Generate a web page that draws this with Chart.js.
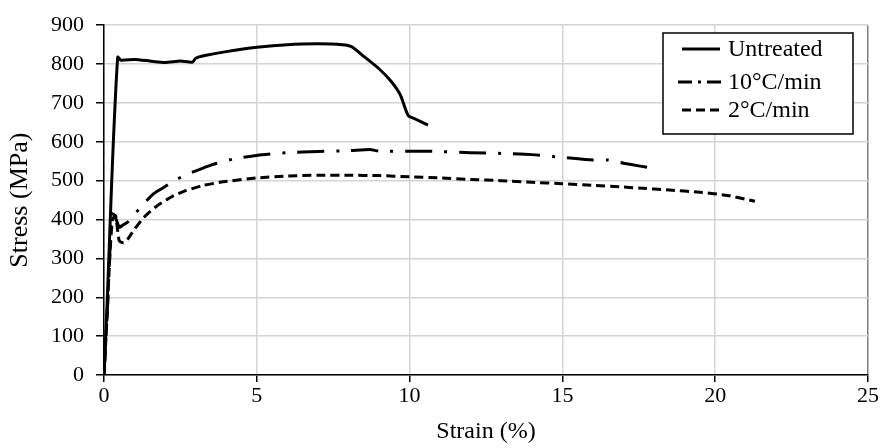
<!DOCTYPE html>
<html>
<head>
<meta charset="utf-8">
<script src="https://cdn.jsdelivr.net/npm/chart.js@4/dist/chart.umd.min.js"></script>
<style>
    html, body { margin: 0; padding: 0; background: #ffffff; }
    #wrap { width: 882px; height: 448px; }
</style>
</head>
<body>
<div id="wrap"><canvas id="stressStrainChart" width="882" height="448"></canvas></div>
<script>
// 応力-ひずみ曲線のデータ
const untreatedStrain = [0, 0.1, 0.2, 0.3, 0.45, 0.55, 1.0, 1.5, 2.0, 2.5, 2.9, 3.0, 3.3, 4.0, 5.0, 6.0, 7.0, 7.8, 8.1, 8.5, 9.0, 9.4, 9.7, 9.95, 10.2, 10.6];
const untreatedStress = [0, 180, 390, 590, 818, 810, 812, 808, 804, 808, 805, 815, 822, 832, 843, 850, 852, 850, 845, 820, 788, 755, 720, 668, 658, 643];

const rate10Strain = [0, 0.1, 0.2, 0.25, 0.35, 0.5, 0.6, 0.8, 1.2, 1.6, 1.9, 2.3, 2.6, 3.0, 3.5, 4.2, 5.0, 6.0, 7.0, 8.0, 8.7, 9.0, 10.0, 11.0, 12.0, 13.0, 14.0, 15.0, 16.0, 16.5, 17.0, 17.5, 18.1];
const rate10Stress = [0, 150, 330, 415, 410, 380, 385, 395, 432, 465, 480, 500, 512, 525, 540, 555, 565, 572, 575, 577, 580, 576, 576, 575, 572, 570, 567, 560, 553, 553, 545, 538, 530];

const rate2Strain = [0, 0.1, 0.2, 0.28, 0.38, 0.5, 0.65, 0.8, 1.0, 1.3, 1.7, 2.2, 2.6, 3.2, 3.9, 5.0, 6.0, 7.0, 8.0, 9.0, 10.0, 11.0, 12.0, 13.0, 14.0, 15.0, 16.0, 16.9, 17.5, 18.5, 19.5, 20.4, 21.3];
const rate2Stress = [0, 150, 320, 400, 410, 345, 340, 352, 375, 405, 433, 458, 472, 487, 497, 507, 512, 514, 514, 513, 510, 507, 503, 500, 496, 492, 488, 484, 481, 476, 470, 462, 447];

const seriesLabels = ['Untreated', '10°C/min', '2°C/min'];
const xTicks = [0, 5, 10, 15, 20, 25];
const yTicks = [0, 100, 200, 300, 400, 500, 600, 700, 800, 900];

const FONT = "'Liberation Serif', 'Times New Roman', serif";

const toPoints = (xs, ys) => xs.map((x, i) => ({ x: x, y: ys[i] }));

// グラフ内の凡例 (枠付き)
const boxLegend = {
    id: 'boxLegend',
    afterDraw: (chart) => {
        const ctx = chart.ctx;
        const box = { left: 663, top: 33, width: 190, height: 101 };
        const rows = [49, 82, 110];
        const dashes = [[], [14, 6, 3, 6], [9, 5]];
        ctx.save();
        ctx.fillStyle = '#ffffff';
        ctx.fillRect(box.left, box.top, box.width, box.height);
        ctx.strokeStyle = '#000000';
        ctx.lineWidth = 1.5;
        ctx.setLineDash([]);
        ctx.strokeRect(box.left, box.top, box.width, box.height);

        ctx.font = `24px ${FONT}`;
        ctx.textAlign = 'left';
        ctx.textBaseline = 'middle';
        chart.data.datasets.forEach((ds, i) => {
            const y = rows[i];
            ctx.beginPath();
            ctx.lineWidth = 3;
            ctx.setLineDash(dashes[i]);
            ctx.moveTo(i === 1 ? 678 : 682, y);
            ctx.lineTo(i === 1 ? 724 : 720, y);
            ctx.stroke();
            ctx.setLineDash([]);
            ctx.fillStyle = '#000000';
            ctx.fillText(ds.label, 728, y + 1);
        });
        ctx.restore();
    },
};

const canvas = document.getElementById('stressStrainChart');
new Chart(canvas.getContext('2d'), {
    type: 'scatter',
    data: {
        datasets: [
            {
                label: seriesLabels[0],
                data: toPoints(untreatedStrain, untreatedStress),
                borderColor: '#000000',
                borderWidth: 3,
                showLine: true,
                pointRadius: 0,
                tension: 0.2,
            },
            {
                label: seriesLabels[1],
                data: toPoints(rate10Strain, rate10Stress),
                borderColor: '#000000',
                borderWidth: 3,
                borderDash: [27, 12, 3, 12],
                showLine: true,
                pointRadius: 0,
                tension: 0.2,
            },
            {
                label: seriesLabels[2],
                data: toPoints(rate2Strain, rate2Stress),
                borderColor: '#000000',
                borderWidth: 3,
                borderDash: [9, 5],
                showLine: true,
                pointRadius: 0,
                tension: 0.2,
            },
        ],
    },
    options: {
        responsive: false,
        animation: false,
        devicePixelRatio: 1,
        layout: { padding: { left: 0, top: 19, right: 14, bottom: 0 } },
        plugins: {
            legend: { display: false },
            tooltip: { enabled: false },
        },
        scales: {
            x: {
                type: 'linear',
                min: 0,
                max: 25,
                afterBuildTicks: (scale) => {
                    scale.ticks = xTicks.map((v) => ({ value: v }));
                },
                afterFit: (scale) => {
                    scale.height = 73;
                },
                ticks: {
                    color: '#000000',
                    font: { family: FONT, size: 22 },
                    padding: 1,
                    maxRotation: 0,
                },
                grid: {
                    color: (c) => (c.tick && c.tick.value === 25 ? '#808080' : '#d4d4d4'),
                    lineWidth: 1.5,
                    tickColor: '#000000',
                    tickLength: 7,
                },
                border: { color: '#000000', width: 1.5 },
                title: {
                    display: true,
                    text: 'Strain (%)',
                    color: '#000000',
                    font: { family: FONT, size: 24 },
                    padding: { top: 0, bottom: 2 },
                },
            },
            y: {
                type: 'linear',
                min: 0,
                max: 900,
                afterBuildTicks: (scale) => {
                    scale.ticks = yTicks.map((v) => ({ value: v }));
                },
                afterFit: (scale) => {
                    scale.width = 104;
                },
                ticks: {
                    color: '#000000',
                    font: { family: FONT, size: 22 },
                    padding: 12,
                },
                grid: {
                    color: '#d4d4d4',
                    lineWidth: 1.5,
                    tickColor: '#000000',
                    tickLength: 8,
                },
                border: { color: '#000000', width: 1.5 },
                title: {
                    display: true,
                    text: 'Stress (MPa)',
                    color: '#000000',
                    font: { family: FONT, size: 26 },
                    padding: { top: 5, bottom: 0 },
                },
            },
        },
    },
    plugins: [boxLegend],
});
</script>
</body>
</html>
